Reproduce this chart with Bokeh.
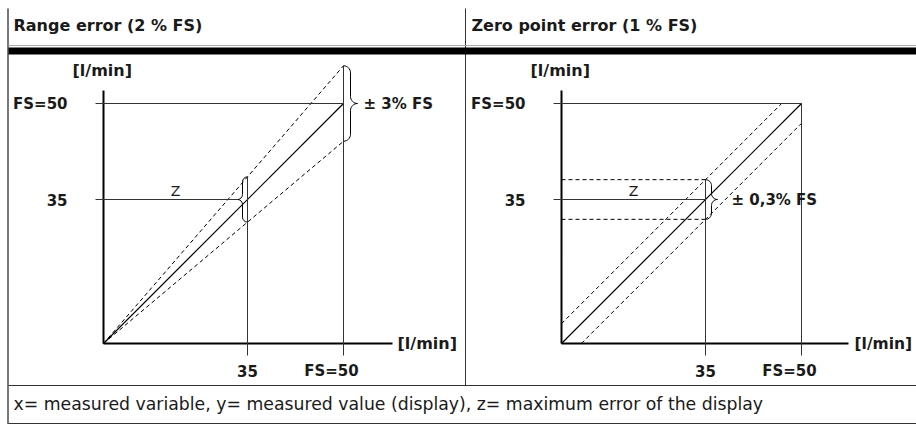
from bokeh.plotting import figure
from bokeh.models import Range1d
from bokeh.embed import file_html
from bokeh.resources import INLINE
from bokeh.core.properties import value

# ---------------- data ----------------
panel_titles = ["Range error (2 % FS)", "Zero point error (1 % FS)"]
unit_label = "[l/min]"
tick_values = [35, 50]
tick_labels = ["35", "FS=50"]
axis_origin = 12.5          # value at the corner of the (not-to-zero) schematic axes
fs_value = 50
point_value = 35
range_err_label = "± 3% FS"
zero_err_label = "± 0,3% FS"
range_band_fs = [55.9, 44.1]     # drawn dashed envelope at FS (range error, exaggerated)
zero_band_offset = [3.1, -3.1]   # drawn dashed envelope offset (zero point error, exaggerated)
z_label = "Z"
footer_text = "x= measured variable, y= measured value (display), z= maximum error of the display"

# ---------------- layout (screen px) ----------------
W, H = 916, 425
PX = 6.4                       # px per l/min in the panels
corner_y = 343
corners_x = {"L": 103, "R": 561}
FONT = value("DejaVu Sans")
INK = "#1a1a1a"
GUIDE = "#333333"

p = figure(width=W, height=H, x_range=Range1d(0, W), y_range=Range1d(H, 0),
           output_backend="svg", toolbar_location=None, min_border=0,
           x_axis_location=None, y_axis_location=None, outline_line_color=None,
           background_fill_color="white", border_fill_color="white")
p.title_location = None
p.xgrid.visible = False
p.ygrid.visible = False
p.grid.grid_line_color = None

o = axis_origin
for nm, cx in corners_x.items():
    p.extra_x_ranges["x" + nm] = Range1d(o + (0 - cx) / PX, o + (W - cx) / PX)
    p.extra_y_ranges["y" + nm] = Range1d(o - (H - corner_y) / PX, o + (corner_y - 0) / PX)

# ---------------- frame ----------------
p.segment(x0=[7.5], y0=[8], x1=[7.5], y1=[423.5], line_color="#777777", line_width=2)
p.segment(x0=[465], y0=[8], x1=[465], y1=[385], line_color=GUIDE, line_width=1)
p.segment(x0=[8], y0=[45], x1=[916], y1=[45], line_color="#aaaaaa", line_width=1)
p.segment(x0=[8], y0=[50.5], x1=[916], y1=[50.5], line_color="black", line_width=7)
p.segment(x0=[8], y0=[385], x1=[916], y1=[385], line_color=GUIDE, line_width=1)
p.segment(x0=[8], y0=[423], x1=[916], y1=[423], line_color=GUIDE, line_width=1)

p.text(x=[13, 471], y=[25, 25], text=panel_titles, text_font=FONT, text_font_style="bold",
       text_font_size="16px", text_baseline="middle", text_align="left", text_color=INK)
p.text(x=[13], y=[403], text=[footer_text], text_font=FONT, text_font_size="17.3px",
       text_baseline="middle", text_align="left", text_color=INK)


def brace(xb, y_lo, y_hi, w_px, nm):
    w = w_px / PX
    q = w / 2
    r = abs(q)
    ym = (y_lo + y_hi) / 2
    kw = dict(x_range_name="x" + nm, y_range_name="y" + nm, line_color="black", line_width=1)
    p.bezier(x0=[xb, xb + q, xb, xb + q],
             y0=[y_hi, ym + r, y_lo, ym - r],
             x1=[xb + q, xb + w, xb + q, xb + w],
             y1=[y_hi - r, ym, y_lo + r, ym],
             cx0=[xb + q * 0.55, xb + q, xb + q * 0.55, xb + q],
             cy0=[y_hi, ym + r * 0.45, y_lo, ym - r * 0.45],
             cx1=[xb + q, xb + q * 1.45, xb + q, xb + q * 1.45],
             cy1=[y_hi - r * 0.45, ym, y_lo + r * 0.45, ym], **kw)
    p.segment(x0=[xb + q, xb + q], y0=[y_hi - r, y_lo + r],
              x1=[xb + q, xb + q], y1=[ym + r, ym - r], **kw)
    return xb + w


def panel(nm, axis_top_px, axis_right_px, unit_gap, unit_size):
    kw = dict(x_range_name="x" + nm, y_range_name="y" + nm)
    cx = corners_x[nm]
    top_v = o + (corner_y - axis_top_px) / PX
    right_v = o + (axis_right_px - cx) / PX
    lab = dict(text_font=FONT, text_font_style="bold", text_color=INK, text_baseline="middle")
    # axes
    p.segment(x0=[o, o], y0=[o, o], x1=[o, right_v], y1=[top_v, o],
              line_color="black", line_width=2, **kw)
    # y tick labels and unit labels
    p.text(x=[o, o], y=tick_values, text=tick_labels, text_align="right",
           x_offset=-36, text_font_size="15px", **lab, **kw)
    p.text(x=[o], y=[top_v], text=[unit_label], text_align="left",
           x_offset=-31, y_offset=-20, text_font_size="16px", **lab, **kw)
    p.text(x=[right_v], y=[o], text=[unit_label], text_align="left",
           x_offset=unit_gap, text_font_size=unit_size, **lab, **kw)
    # x tick labels
    p.text(x=[tick_values[0]], y=[o], text=[tick_labels[0]], text_align="center",
           y_offset=27, text_font_size="15px", **lab, **kw)
    p.text(x=[tick_values[1]], y=[o], text=[tick_labels[1]], text_align="center",
           x_offset=-12, y_offset=27, text_font_size="15px", **lab, **kw)
    # ideal characteristic
    p.segment(x0=[o], y0=[o], x1=[fs_value], y1=[fs_value], line_color="black",
              line_width=1.2, **kw)
    return kw


t_lo = 8 / PX
b_lo = 12 / PX

# ---- left panel: range error ----
kwL = panel("L", 90, 392, 5, "16px")
hi_fs, lo_fs = range_band_fs
hi_35 = o + (point_value - o) * (hi_fs - o) / (fs_value - o)
lo_35 = o + (point_value - o) * (lo_fs - o) / (fs_value - o)
p.segment(x0=[o, o], y0=[o, o], x1=[fs_value, fs_value], y1=[hi_fs, lo_fs],
          line_color="black", line_width=1, line_dash="4 3", **kwL)
tipL = brace(point_value, lo_35, hi_35, -10, "L")
p.segment(x0=[o - t_lo, o - t_lo], y0=[fs_value, point_value], x1=[fs_value, tipL],
          y1=[fs_value, point_value], line_color=GUIDE, line_width=1, **kwL)
p.segment(x0=[fs_value, point_value], y0=[o - b_lo, o - b_lo], x1=[fs_value, point_value],
          y1=[hi_fs, hi_35], line_color=GUIDE, line_width=1, **kwL)
tipFS = brace(fs_value, lo_fs, hi_fs, 14, "L")
p.text(x=[tipFS], y=[fs_value], text=[range_err_label], x_offset=6, text_align="left",
       text_baseline="middle", text_font=FONT, text_font_style="bold", text_font_size="15px",
       text_color=INK, **kwL)
p.text(x=[(o + point_value) / 2], y=[point_value], text=[z_label], y_offset=-1,
       text_align="center", text_baseline="bottom", text_font=FONT, text_font_size="14px",
       text_color=INK, **kwL)

# ---- right panel: zero point error ----
kwR = panel("R", 90, 848, 6, "15.5px")
d_hi, d_lo = zero_band_offset
p.segment(x0=[o, o - d_lo], y0=[o + d_hi, o], x1=[fs_value - d_hi, fs_value],
          y1=[fs_value, fs_value + d_lo], line_color="black", line_width=1, line_dash="4 3", **kwR)
p.segment(x0=[o, o], y0=[point_value + d_hi, point_value + d_lo], x1=[point_value, point_value],
          y1=[point_value + d_hi, point_value + d_lo], line_color="black", line_width=1,
          line_dash="4 3", **kwR)
p.segment(x0=[o - t_lo, o - t_lo], y0=[fs_value, point_value], x1=[fs_value, point_value],
          y1=[fs_value, point_value], line_color=GUIDE, line_width=1, **kwR)
p.segment(x0=[fs_value, point_value], y0=[o - b_lo, o - b_lo], x1=[fs_value, point_value],
          y1=[fs_value, point_value + d_hi], line_color=GUIDE, line_width=1, **kwR)
tipR = brace(point_value, point_value + d_lo, point_value + d_hi, 12, "R")
p.text(x=[tipR], y=[point_value], text=[zero_err_label], x_offset=14, text_align="left",
       text_baseline="middle", text_font=FONT, text_font_style="bold", text_font_size="15px",
       text_color=INK, **kwR)
p.text(x=[(o + point_value) / 2], y=[point_value], text=[z_label], y_offset=-1,
       text_align="center", text_baseline="bottom", text_font=FONT, text_font_size="14px",
       text_color=INK, **kwR)

open("out.html", "w").write(file_html(p, INLINE))
